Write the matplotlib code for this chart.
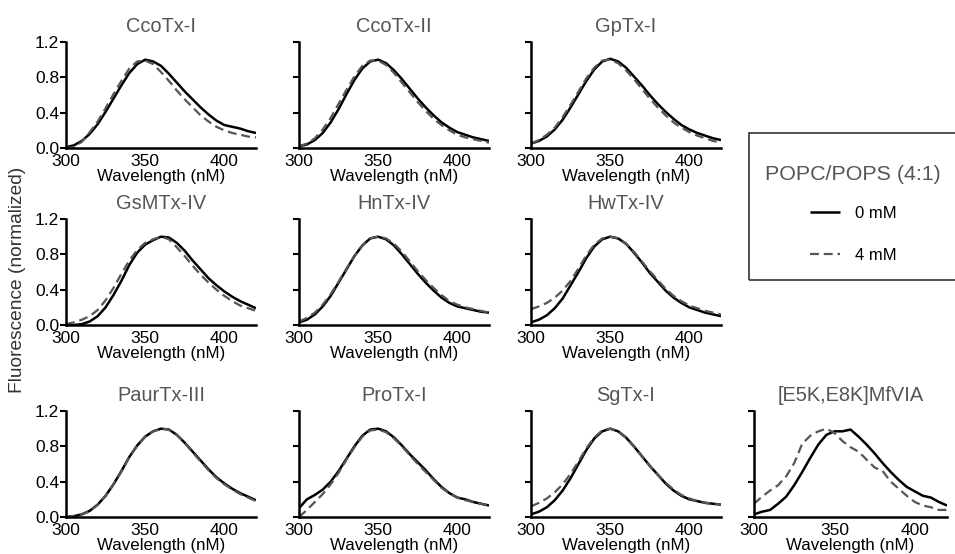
import matplotlib
matplotlib.use("Agg")
import matplotlib.pyplot as plt
from matplotlib.patches import Rectangle

plt.rcParams['font.family'] = ['Liberation Sans', 'DejaVu Sans']

wavelength = [300, 305, 310, 315, 320, 325, 330, 335, 340, 345, 350, 355, 360,
              365, 370, 375, 380, 385, 390, 395, 400, 405, 410, 415, 420]

titles = ["CcoTx-I", "CcoTx-II", "GpTx-I",
          "GsMTx-IV", "HnTx-IV", "HwTx-IV",
          "PaurTx-III", "ProTx-I", "SgTx-I", "[E5K,E8K]MfVIA"]

ccotx1_0 = [0.01, 0.03, 0.08, 0.16, 0.27, 0.41, 0.56, 0.71, 0.85, 0.95, 1.0, 0.98, 0.93, 0.84, 0.74, 0.64, 0.55, 0.46, 0.38, 0.31, 0.26, 0.24, 0.22, 0.19, 0.17]
ccotx1_4 = [0.0, 0.01, 0.07, 0.18, 0.30, 0.45, 0.61, 0.76, 0.90, 0.98, 0.99, 0.95, 0.86, 0.76, 0.65, 0.55, 0.46, 0.37, 0.30, 0.24, 0.20, 0.17, 0.15, 0.13, 0.12]
ccotx2_0 = [0.02, 0.04, 0.09, 0.17, 0.29, 0.44, 0.61, 0.77, 0.90, 0.98, 1.0, 0.96, 0.88, 0.78, 0.67, 0.56, 0.46, 0.37, 0.29, 0.23, 0.18, 0.15, 0.12, 0.10, 0.08]
ccotx2_4 = [0.02, 0.05, 0.11, 0.21, 0.34, 0.50, 0.66, 0.81, 0.93, 0.99, 0.99, 0.94, 0.85, 0.74, 0.63, 0.52, 0.42, 0.33, 0.26, 0.20, 0.15, 0.12, 0.10, 0.08, 0.06]
gptx1_0 = [0.05, 0.08, 0.13, 0.21, 0.32, 0.46, 0.61, 0.76, 0.89, 0.98, 1.01, 0.98, 0.91, 0.81, 0.71, 0.60, 0.50, 0.41, 0.33, 0.26, 0.21, 0.17, 0.14, 0.11, 0.09]
gptx1_4 = [0.05, 0.09, 0.15, 0.23, 0.35, 0.49, 0.64, 0.79, 0.91, 0.99, 1.0, 0.96, 0.88, 0.78, 0.67, 0.56, 0.46, 0.37, 0.29, 0.23, 0.18, 0.14, 0.11, 0.08, 0.06]
gsmtx4_0 = [0.0, 0.0, 0.01, 0.04, 0.10, 0.20, 0.34, 0.50, 0.68, 0.82, 0.91, 0.96, 1.0, 0.99, 0.93, 0.84, 0.73, 0.63, 0.53, 0.45, 0.38, 0.32, 0.27, 0.23, 0.19]
gsmtx4_4 = [0.01, 0.03, 0.06, 0.10, 0.17, 0.28, 0.42, 0.58, 0.73, 0.85, 0.93, 0.97, 1.0, 0.97, 0.88, 0.78, 0.67, 0.57, 0.48, 0.40, 0.33, 0.27, 0.22, 0.19, 0.16]
hntx4_0 = [0.03, 0.06, 0.12, 0.21, 0.33, 0.48, 0.63, 0.78, 0.90, 0.98, 1.0, 0.97, 0.90, 0.80, 0.69, 0.58, 0.48, 0.39, 0.31, 0.25, 0.21, 0.19, 0.17, 0.15, 0.14]
hntx4_4 = [0.04, 0.08, 0.14, 0.23, 0.35, 0.49, 0.64, 0.78, 0.90, 0.98, 1.0, 0.98, 0.92, 0.83, 0.72, 0.61, 0.51, 0.42, 0.34, 0.27, 0.23, 0.20, 0.18, 0.16, 0.14]
hwtx4_0 = [0.03, 0.06, 0.11, 0.19, 0.30, 0.45, 0.60, 0.76, 0.89, 0.97, 1.0, 0.98, 0.92, 0.82, 0.71, 0.59, 0.49, 0.39, 0.31, 0.25, 0.20, 0.17, 0.14, 0.12, 0.10]
hwtx4_4 = [0.18, 0.21, 0.25, 0.31, 0.39, 0.50, 0.64, 0.79, 0.91, 0.98, 1.0, 0.98, 0.92, 0.83, 0.72, 0.61, 0.51, 0.41, 0.33, 0.27, 0.22, 0.19, 0.16, 0.14, 0.12]
paurtx3_0 = [0.0, 0.01, 0.03, 0.07, 0.14, 0.24, 0.37, 0.52, 0.68, 0.81, 0.91, 0.97, 1.0, 0.99, 0.93, 0.84, 0.74, 0.64, 0.54, 0.45, 0.38, 0.32, 0.27, 0.23, 0.19]
paurtx3_4 = [0.0, 0.01, 0.03, 0.07, 0.14, 0.24, 0.37, 0.52, 0.68, 0.81, 0.91, 0.97, 1.0, 0.99, 0.93, 0.84, 0.73, 0.63, 0.53, 0.44, 0.37, 0.31, 0.26, 0.22, 0.18]
protx1_0 = [0.10, 0.20, 0.25, 0.31, 0.40, 0.52, 0.66, 0.80, 0.92, 0.99, 1.0, 0.97, 0.90, 0.81, 0.71, 0.62, 0.53, 0.43, 0.34, 0.27, 0.22, 0.20, 0.17, 0.15, 0.13]
protx1_4 = [0.0, 0.08, 0.17, 0.26, 0.37, 0.50, 0.65, 0.79, 0.91, 0.98, 0.99, 0.96, 0.89, 0.80, 0.70, 0.60, 0.51, 0.42, 0.33, 0.27, 0.22, 0.19, 0.17, 0.15, 0.13]
sgtx1_0 = [0.03, 0.06, 0.11, 0.19, 0.30, 0.44, 0.60, 0.76, 0.89, 0.97, 1.0, 0.97, 0.90, 0.80, 0.69, 0.58, 0.48, 0.38, 0.30, 0.24, 0.20, 0.18, 0.16, 0.15, 0.14]
sgtx1_4 = [0.12, 0.16, 0.21, 0.28, 0.37, 0.49, 0.63, 0.78, 0.90, 0.98, 1.0, 0.97, 0.90, 0.80, 0.69, 0.58, 0.48, 0.39, 0.31, 0.25, 0.21, 0.18, 0.16, 0.15, 0.14]
mfvia_0 = [0.03, 0.06, 0.08, 0.15, 0.23, 0.36, 0.51, 0.67, 0.82, 0.93, 0.97, 0.97, 0.99, 0.91, 0.82, 0.72, 0.61, 0.51, 0.42, 0.34, 0.29, 0.24, 0.22, 0.17, 0.13]
mfvia_4 = [0.15, 0.23, 0.30, 0.36, 0.46, 0.61, 0.83, 0.92, 0.97, 1.0, 0.95, 0.86, 0.79, 0.74, 0.65, 0.56, 0.52, 0.40, 0.32, 0.24, 0.17, 0.13, 0.11, 0.08, 0.08]

series_0mM = [ccotx1_0, ccotx2_0, gptx1_0, gsmtx4_0, hntx4_0, hwtx4_0,
              paurtx3_0, protx1_0, sgtx1_0, mfvia_0]
series_4mM = [ccotx1_4, ccotx2_4, gptx1_4, gsmtx4_4, hntx4_4, hwtx4_4,
              paurtx3_4, protx1_4, sgtx1_4, mfvia_4]

yticks = [0.0, 0.4, 0.8, 1.2]
ytick_labels = ["0.0", "0.4", "0.8", "1.2"]
xticks = [300, 350, 400]

W, H = 955, 554
fig = plt.figure(figsize=(W / 100, H / 100), dpi=100)

cols_x = [66, 299, 531, 754]
rows_top = [42, 219, 411]
aw, ah = 190, 106
positions = [(0, 0), (1, 0), (2, 0), (0, 1), (1, 1), (2, 1), (0, 2), (1, 2), (2, 2), (3, 2)]

handles = None
for i, (c, r) in enumerate(positions):
    x0 = cols_x[c]
    top = rows_top[r]
    ax = fig.add_axes([x0 / W, 1 - (top + ah) / H, (aw + (3 if c == 3 else 0)) / W, ah / H])
    l0, = ax.plot(wavelength, series_0mM[i], color='black', lw=1.8, solid_capstyle='butt')
    l4, = ax.plot(wavelength, series_4mM[i], color='#555555', lw=1.6, ls=(0, (4, 2.2)))
    if handles is None:
        handles = [l0, l4]
    ax.set_xlim(300, 420)
    ax.set_ylim(0, 1.2)
    ax.set_xticks(xticks)
    ax.set_yticks(yticks)
    if c == 0:
        ax.set_yticklabels(ytick_labels)
    else:
        ax.set_yticklabels([])
    for s in ['top', 'right']:
        ax.spines[s].set_visible(False)
    for s in ['left', 'bottom']:
        ax.spines[s].set_linewidth(1.8)
    ax.tick_params(axis='y', direction='out', length=4, width=1.5, labelsize=12.5, pad=1)
    ax.tick_params(axis='x', direction='out', length=0, width=1.5, labelsize=12.5, pad=4)
    ax.set_xlabel("Wavelength (nM)", fontsize=12.2, labelpad=0)
    ax.set_title(titles[i], fontsize=14.4, color='#555555', pad=7)
    ax.patch.set_alpha(0)

fig.text(18 / W, 1 - 280 / H, "Fluorescence (normalized)", rotation=90,
         fontsize=13.8, color='#333333', ha='center', va='center')

# legend frame
fig.patches.append(Rectangle((749 / W, 1 - 280 / H), 220 / W, 147 / H,
                             transform=fig.transFigure, fill=False,
                             edgecolor='#333333', lw=1.2, clip_on=False))
leg = fig.legend(handles, ["0 mM", "4 mM"], loc='center',
                 bbox_to_anchor=(853 / W, 1 - 214 / H), frameon=False,
                 title="POPC/POPS (4:1)", title_fontsize=15.4, fontsize=12,
                 handlelength=1.8, labelspacing=1.6, handletextpad=0.9,
                 borderaxespad=0)
leg.get_title().set_color('#555555')
leg._legend_box.sep = 16

fig.savefig("out.png", dpi=100)
